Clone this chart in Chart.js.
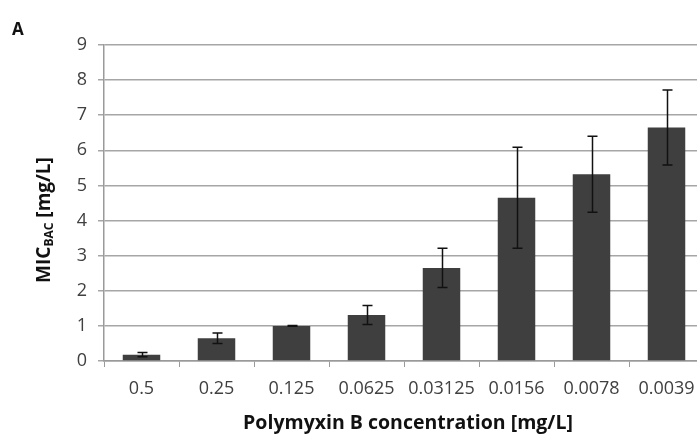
<!DOCTYPE html>
<html>
<head>
<meta charset="utf-8">
<script src="https://cdn.jsdelivr.net/npm/chart.js@4.4.0/dist/chart.umd.min.js"></script>
<style>
  html, body { margin: 0; padding: 0; background: #fff; overflow: hidden; }
  .wrap { width: 712px; height: 437px; }
</style>
</head>
<body>
<div class="wrap"><canvas id="myChart" width="712" height="437"></canvas></div>
<script>
const concentrations = ["0.5", "0.25", "0.125", "0.0625", "0.03125", "0.0156", "0.0078", "0.0039"];
const micValues = [0.18, 0.65, 1.0, 1.31, 2.65, 4.65, 5.32, 6.65];
const micErrors = [0.06, 0.15, 0.01, 0.27, 0.56, 1.44, 1.08, 1.07];
const yTicks = [0, 1, 2, 3, 4, 5, 6, 7, 8, 9];

const FONT = "'Open Sans', sans-serif";
const ctx = document.getElementById("myChart");

// error bars, drawn from the y scale
const errorBars = {
  id: "errorBars",
  afterDatasetsDraw(chart) {
    const c = chart.ctx;
    const y = chart.scales.y;
    const meta = chart.getDatasetMeta(0);
    c.save();
    c.strokeStyle = "#111";
    c.lineWidth = 1.5;
    meta.data.forEach((bar, i) => {
      const top = y.getPixelForValue(micValues[i] + micErrors[i]);
      const bottom = y.getPixelForValue(micValues[i] - micErrors[i]);
      const x = Math.round(bar.x) + 0.5;
      c.beginPath();
      c.moveTo(x, top);
      c.lineTo(x, bottom);
      c.moveTo(x - 5, top);
      c.lineTo(x + 5, top);
      c.moveTo(x - 5, bottom);
      c.lineTo(x + 5, bottom);
      c.stroke();
    });
    c.restore();
  },
};

// panel letter and axis titles (y title needs a subscript)
const titles = {
  id: "titles",
  afterDraw(chart) {
    const c = chart.ctx;
    c.save();
    c.fillStyle = "#111";
    c.font = "bold 17px " + FONT;
    c.textBaseline = "alphabetic";
    c.fillText("A", 12, 35);

    c.font = "bold 19.5px " + FONT;
    c.textAlign = "center";
    c.fillText("Polymyxin B concentration [mg/L]", 408, 429);

    // y title
    const big = "bold 19px " + FONT;
    const small = "bold 12px " + FONT;
    c.font = big;
    const w1 = c.measureText("MIC").width;
    const w3 = c.measureText(" [mg/L]").width;
    c.font = small;
    const w2 = c.measureText("BAC").width;
    const total = w1 + w2 + w3;
    c.translate(43, 220);
    c.rotate(-Math.PI / 2);
    c.textAlign = "left";
    let x = -total / 2;
    c.font = big;
    c.fillText("MIC", x, 7);
    x += w1;
    c.font = small;
    c.fillText("BAC", x, 10);
    x += w2;
    c.font = big;
    c.fillText(" [mg/L]", x, 7);
    c.restore();
  },
};

new Chart(ctx, {
  type: "bar",
  data: {
    labels: concentrations,
    datasets: [
      {
        data: micValues,
        backgroundColor: "#3f3f3f",
        borderWidth: 0,
        barPercentage: 0.5,
        categoryPercentage: 1.0,
      },
    ],
  },
  options: {
    responsive: false,
    animation: false,
    layout: { padding: { top: 45, right: 8, left: 0, bottom: 0 } },
    plugins: { legend: { display: false }, tooltip: { enabled: false } },
    scales: {
      x: {
        afterFit: (scale) => { scale.height = 76; },
        grid: {
          offset: true,
          drawOnChartArea: false,
          color: "#9a9a9a",
          tickLength: 6,
        },
        border: { color: "#9a9a9a", width: 1.5 },
        ticks: {
          color: "#404040",
          padding: 11,
          maxRotation: 0,
          autoSkip: false,
          font: { family: FONT, size: 18 },
        },
      },
      y: {
        min: 0,
        max: 9,
        afterFit: (scale) => { scale.width = 104; },
        afterBuildTicks: (scale) => { scale.ticks = yTicks.map((v) => ({ value: v })); },
        grid: { color: "#a6a6a6", lineWidth: 1.5, tickLength: 6 },
        border: { color: "#9a9a9a", width: 1.5 },
        ticks: {
          color: "#404040",
          padding: 11,
          font: { family: FONT, size: 18 },
        },
      },
    },
  },
  plugins: [errorBars, titles],
});
</script>
</body>
</html>
